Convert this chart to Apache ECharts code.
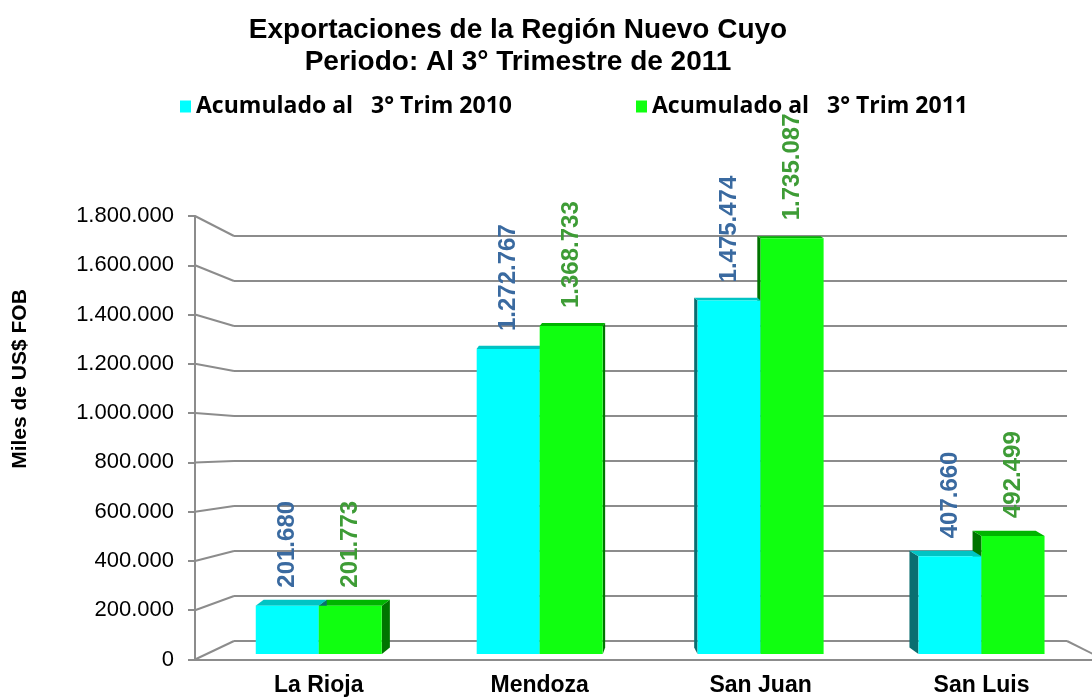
<!DOCTYPE html>
<html><head><meta charset="utf-8">
<script src="https://cdn.jsdelivr.net/npm/echarts@6/dist/echarts.min.js"></script>
<style>html,body{margin:0;padding:0;background:#fff}#c{width:1092px;height:699px}</style>
</head><body><div id="c"></div>
<script>
const categories = ['La Rioja', 'Mendoza', 'San Juan', 'San Luis'];
const serie2010 = [201680, 1272767, 1475474, 407660];
const serie2011 = [201773, 1368733, 1735087, 492499];
const seriesNames = ['Acumulado al   3° Trim 2010', 'Acumulado al   3° Trim 2011'];
const yTicks = [0, 200000, 400000, 600000, 800000, 1000000, 1200000, 1400000, 1600000, 1800000];
const titleText = 'Exportaciones de la Región Nuevo Cuyo\nPeriodo: Al 3° Trimestre de 2011';
const yTitle = 'Miles de US$ FOB';

const fmt = v => String(Math.round(v)).replace(/\B(?=(\d{3})+(?!\d))/g, '.');
const GRID = '#8c8c8c';
const FONT = '"Liberation Sans", Arial, sans-serif';
const LFONT = '"Open Sans", Lato, sans-serif';
const C1 = '#00ffff', C2 = '#10ff10';
const C1top = '#00c4c4', C1side = '#0a6e70', C2top = '#00b400', C2side = '#007400';
const BLUE = '#3a6aa0', GREEN = '#3e9c36';
const VPX = 631;

const chart = echarts.init(document.getElementById('c'));

function faces(params, api) {
  const i = api.value(0);
  const base = api.coord([i, 0]);
  const cx = base[0], yb = base[1];
  const w = api.size([1, 0])[0] * 0.2857;
  const dx = -0.0256 * (cx - VPX);
  const dyf = y => -0.011 * (y - 60);
  const children = [];
  const box = (x0, x1, v, top, side) => {
    const y = api.coord([i, v])[1];
    const dy = dyf(y), dyb = dyf(yb);
    const sx = dx > 0 ? x1 : x0;
    children.push({type: 'polygon', shape: {points: [[sx, y], [sx, yb], [sx + dx, yb + dyb], [sx + dx, y + dy]]}, style: {fill: side}});
    children.push({type: 'polygon', shape: {points: [[x0, y], [x1, y], [x1 + dx, y + dy], [x0 + dx, y + dy]]}, style: {fill: top}});
  };
  box(cx, cx + w, api.value(2), C2top, C2side);
  box(cx - w, cx, api.value(1), C1top, C1side);
  return {type: 'group', children};
}

const barLabel = color => ({
  show: true, position: 'top', rotate: 90, align: 'left', verticalAlign: 'middle',
  distance: 18, fontSize: 24, fontWeight: 'bold', fontFamily: FONT, color: color,
  formatter: p => fmt(p.value)
});

const legendText = {fontFamily: LFONT, fontSize: 23, fontWeight: 'bold', color: '#000'};

chart.setOption({
  animation: false,
  backgroundColor: '#ffffff',
  title: {
    text: titleText, left: 518, textAlign: 'center', top: 14, padding: 0,
    textStyle: {fontFamily: FONT, fontSize: 28, fontWeight: 'bold', color: '#000', lineHeight: 32}
  },
  legend: [
    {data: [seriesNames[0]], left: 180, top: 95, icon: 'rect', itemWidth: 11, itemHeight: 12, padding: 0, textStyle: legendText},
    {data: [seriesNames[1]], left: 636, top: 95, icon: 'rect', itemWidth: 11, itemHeight: 12, padding: 0, textStyle: legendText}
  ],
  grid: [
    {left: 195, right: -5, top: 216, bottom: 699 - 659.5},
    {left: 234, right: 25, top: 236, bottom: 699 - 641},
    {left: 208.3, right: -2, top: 222.7, bottom: 45}
  ],
  xAxis: [
    {gridIndex: 0, type: 'value', min: 0, max: 1, axisLine: {show: true, lineStyle: {color: GRID, width: 2}},
     axisTick: {show: false}, axisLabel: {show: false}, splitLine: {show: false}},
    {gridIndex: 1, type: 'value', min: 0, max: 1, axisLine: {show: false}, axisTick: {show: false},
     axisLabel: {show: false}, splitLine: {show: false}},
    {gridIndex: 2, type: 'category', data: categories, axisLine: {show: false}, axisTick: {show: false},
     axisLabel: {margin: 20, fontFamily: FONT, fontSize: 23, fontWeight: 'bold', color: '#000'}}
  ],
  yAxis: [
    {gridIndex: 0, type: 'value', min: 0, max: 1800000, interval: 200000,
     axisLine: {show: true, lineStyle: {color: GRID, width: 2}},
     axisTick: {show: true, length: 7, lineStyle: {color: GRID, width: 2}},
     axisLabel: {margin: 21, fontFamily: FONT, fontSize: 22, color: '#000', formatter: v => fmt(v)},
     splitLine: {show: false}},
    {gridIndex: 1, type: 'value', min: 0, max: 1800000, interval: 200000,
     axisLine: {show: false}, axisTick: {show: false}, axisLabel: {show: false},
     splitLine: {show: true, lineStyle: {color: GRID, width: 2}}},
    {gridIndex: 2, type: 'value', min: 0, max: 1800000, show: false}
  ],
  series: [
    {type: 'custom', name: 'faces', xAxisIndex: 2, yAxisIndex: 2, z: 1, silent: true,
     renderItem: faces, data: categories.map((c, i) => [i, serie2010[i], serie2011[i]])},
    {type: 'bar', name: seriesNames[0], xAxisIndex: 2, yAxisIndex: 2, z: 3, barWidth: 63, barGap: '0%',
     itemStyle: {color: C1}, label: barLabel(BLUE), data: serie2010},
    {type: 'bar', name: seriesNames[1], xAxisIndex: 2, yAxisIndex: 2, z: 3, barWidth: 63, barGap: '0%',
     itemStyle: {color: C2}, label: barLabel(GREEN), data: serie2011}
  ]
});

// perspective connectors between the front axis and the back wall, derived from both axes
const g = [];
yTicks.forEach(v => {
  const a = chart.convertToPixel({xAxisIndex: 0, yAxisIndex: 0}, [0, v]);
  const b = chart.convertToPixel({xAxisIndex: 1, yAxisIndex: 1}, [0, v]);
  g.push({type: 'line', shape: {x1: a[0], y1: a[1], x2: b[0], y2: b[1]}, style: {stroke: GRID, lineWidth: 2}, z: 0});
});
const r = chart.convertToPixel({xAxisIndex: 1, yAxisIndex: 1}, [1, 0]);
g.push({type: 'line', shape: {x1: r[0], y1: r[1], x2: r[0] + 40, y2: r[1] + 20}, style: {stroke: GRID, lineWidth: 2}, z: 0});
g.push({type: 'text', x: 20, y: 379, rotation: Math.PI / 2,
  style: {text: yTitle, fontFamily: FONT, fontSize: 21, fontWeight: 'bold', fill: '#000', align: 'center', verticalAlign: 'middle'}});
chart.setOption({graphic: g});
</script></body></html>
